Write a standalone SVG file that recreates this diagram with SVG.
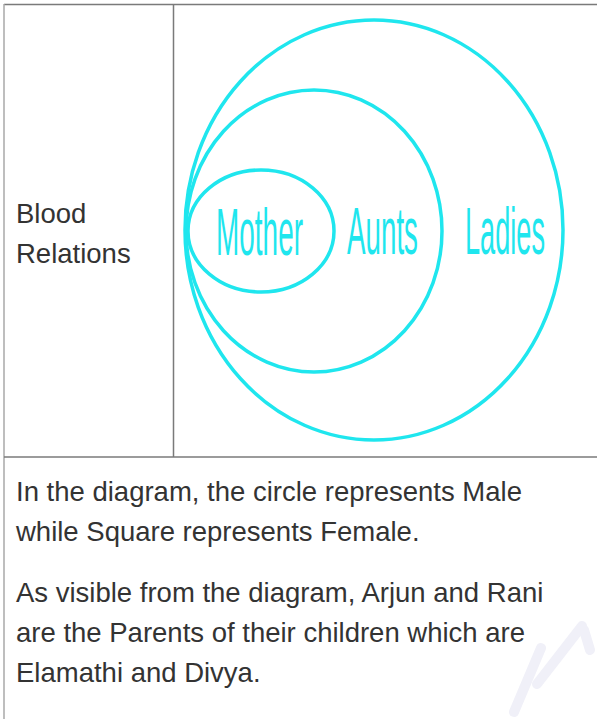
<svg xmlns="http://www.w3.org/2000/svg" width="597" height="719" viewBox="0 0 597 719">
<style>
.grid{stroke:#7a7a7a;stroke-width:1.5;fill:none}
.edge{stroke:#a8a8a8;stroke-width:1.5;fill:none}
.ring{fill:none;stroke:#1fe6ee;stroke-width:3.5}
.lbl{font-family:"Liberation Sans",Arial,sans-serif;font-size:27.5px;fill:#333333}
.venn{font-family:"Liberation Sans",Arial,sans-serif;font-size:67px;fill:#1fe6ee}
.wm{fill:none;stroke:#f0f0f8;stroke-width:10;stroke-linecap:round}
</style>
<rect width="597" height="719" fill="#ffffff"/>
<g id="watermark">
<path class="wm" d="M514 712 L541 648"/>
<path class="wm" d="M537 684 L582 626"/>
<path class="wm" d="M584 630 L590 650"/>
</g>
<g id="table">
<line class="grid" x1="4" y1="4.5" x2="597" y2="4.5"/>
<line class="edge" x1="4" y1="4" x2="4" y2="719"/>
<line class="grid" x1="173.5" y1="4" x2="173.5" y2="457"/>
<line class="grid" x1="4" y1="457" x2="597" y2="457"/>
</g>
<g id="row-label">
<text class="lbl" x="16" y="223">Blood</text>
<text class="lbl" x="16" y="263">Relations</text>
</g>
<g id="ladies">
<ellipse class="ring" cx="374" cy="230" rx="189" ry="210"/>
<text class="venn" x="465" y="254" textLength="80" lengthAdjust="spacingAndGlyphs">Ladies</text>
</g>
<g id="aunts">
<ellipse class="ring" cx="314" cy="231" rx="128" ry="141"/>
<text class="venn" x="347" y="254" textLength="71" lengthAdjust="spacingAndGlyphs">Aunts</text>
</g>
<g id="mother">
<ellipse class="ring" cx="261" cy="231" rx="73" ry="61"/>
<text class="venn" x="216" y="255" textLength="87" lengthAdjust="spacingAndGlyphs">Mother</text>
</g>
<g id="explanation">
<text class="lbl" x="16" y="501">In the diagram, the circle represents Male</text>
<text class="lbl" x="16" y="541">while Square represents Female.</text>
<text class="lbl" x="16" y="602">As visible from the diagram, Arjun and Rani</text>
<text class="lbl" x="16" y="642">are the Parents of their children which are</text>
<text class="lbl" x="16" y="682">Elamathi and Divya.</text>
</g>
</svg>
